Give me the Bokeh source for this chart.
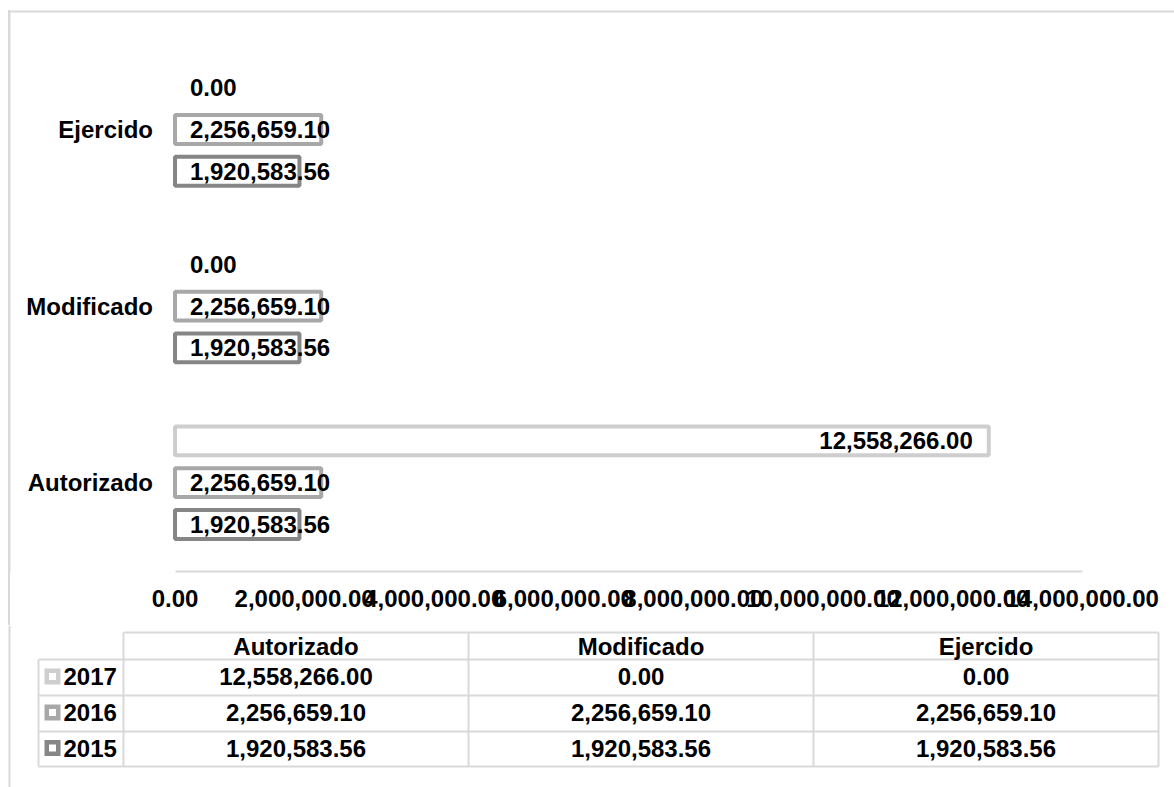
from bokeh.plotting import figure
from bokeh.layouts import column
from bokeh.models import (ColumnDataSource, Range1d, FixedTicker, NumeralTickFormatter,
                          BoxAnnotation, AllLabels)
from bokeh.core.properties import value
from bokeh.embed import file_html
from bokeh.resources import INLINE

# ---------------- data ----------------
categories = ["Autorizado", "Modificado", "Ejercido"]          # bottom -> top
years = ["2015", "2016", "2017"]                                 # bottom -> top within a group
values_2015 = [1920583.56, 1920583.56, 1920583.56]
values_2016 = [2256659.10, 2256659.10, 2256659.10]
values_2017 = [12558266.00, 0.00, 0.00]
year_colors = ["#868686", "#a8a8a8", "#cecece"]
x_ticks = [0, 2000000, 4000000, 6000000, 8000000, 10000000, 12000000, 14000000]

# ---------------- style / layout ----------------
FONT = "Liberation Sans"
FS = "24px"
W = 1174
TOP_H = 625
TABLE_H = 787 - TOP_H
ZERO_PX = 174.5
PX_PER_UNIT = 64.8 / 1e6
SLOT_PX = 41.8
GAP = 1.225
FRAME_H = 571
FIRST_SLOT_PX = 524
GRID_COLOR = "#d9d9d9"

series = {"2015": values_2015, "2016": values_2016, "2017": values_2017}

ys, vals, cols, labels = [], [], [], []
for gi, cat in enumerate(categories):
    for yi, yr in enumerate(years):
        v = series[yr][gi]
        ys.append(gi * (3 + GAP) + yi)
        vals.append(v)
        cols.append(year_colors[yi])
        labels.append(f"{v:,.2f}")

bar_idx = [i for i, v in enumerate(vals) if v > 0]
bar_src = ColumnDataSource(dict(y=[ys[i] for i in bar_idx], value=[vals[i] for i in bar_idx],
                                color=[cols[i] for i in bar_idx]))
fit = [v * PX_PER_UNIT > 200 for v in vals]
in_src = ColumnDataSource(dict(x=[vals[i] for i in range(len(vals)) if fit[i]],
                               y=[ys[i] for i in range(len(vals)) if fit[i]],
                               t=[labels[i] for i in range(len(vals)) if fit[i]]))
out_src = ColumnDataSource(dict(x=[0 for i in range(len(vals)) if not fit[i]],
                                y=[ys[i] for i in range(len(vals)) if not fit[i]],
                                t=[labels[i] for i in range(len(vals)) if not fit[i]]))
cat_src = ColumnDataSource(dict(x=[0] * len(categories),
                                y=[gi * (3 + GAP) + 1 for gi in range(len(categories))],
                                t=categories))

x0 = -ZERO_PX / PX_PER_UNIT
x1 = x0 + W / PX_PER_UNIT
y0 = -(FRAME_H - FIRST_SLOT_PX) / SLOT_PX
y1 = y0 + FRAME_H / SLOT_PX

p = figure(width=W, height=TOP_H, x_range=Range1d(x0, x1), y_range=Range1d(y0, y1),
           output_backend="svg", toolbar_location=None, y_axis_location=None,
           min_border_left=0, min_border_right=0, min_border_top=0,
           min_border_bottom=TOP_H - FRAME_H, outline_line_color=None,
           background_fill_alpha=0, border_fill_alpha=0)
p.grid.visible = False
# left outer border line of the chart area (shows through the transparent canvas)
p.styles = {
    "background-color": "white",
    "background-image": f"linear-gradient({GRID_COLOR}, {GRID_COLOR})",
    "background-size": f"2px {TOP_H - 10}px",
    "background-position": "8px 10px",
    "background-repeat": "no-repeat",
}

p.hbar(y="y", left=0, right="value", height=0.69, fill_color="white",
       line_color="color", line_width=4, source=bar_src)

txt = dict(text="t", text_font=value(FONT), text_font_style="bold", text_font_size=FS,
           text_color="black", text_baseline="middle")
p.text(x="x", y="y", x_offset=-16, text_align="right", source=in_src, **txt)
p.text(x="x", y="y", x_offset=15, text_align="left", source=out_src, **txt)
p.text(x="x", y="y", x_offset=-22, text_align="right", source=cat_src, **txt)

ax = p.xaxis[0]
ax.ticker = FixedTicker(ticks=x_ticks)
ax.formatter = NumeralTickFormatter(format="0,0.00")
ax.bounds = (x_ticks[0], x_ticks[-1])
ax.axis_line_color = GRID_COLOR
ax.axis_line_width = 2
ax.major_tick_line_color = None
ax.minor_tick_line_color = None
ax.major_tick_out = 0
ax.major_label_standoff = 18
ax.major_label_policy = AllLabels()
ax.major_label_text_font = FONT
ax.major_label_text_font_style = "bold"
ax.major_label_text_font_size = FS
ax.major_label_text_color = "black"


def sy(px):
    # screen units of annotations are measured upward from the frame bottom
    return FRAME_H - px


# outer chart border (top + left)
p.add_layout(BoxAnnotation(left=8, right=W, top=sy(10), bottom=sy(12), left_units="screen",
                           right_units="screen", top_units="screen", bottom_units="screen",
                           fill_color=GRID_COLOR, fill_alpha=1, line_color=None))
p.add_layout(BoxAnnotation(left=8, right=10, top=sy(10), bottom=sy(TOP_H), left_units="screen",
                           right_units="screen", top_units="screen", bottom_units="screen",
                           fill_color=GRID_COLOR, fill_alpha=1, line_color=None))

# ---------------- data table (legend) ----------------
t = figure(width=W, height=TABLE_H, x_range=Range1d(0, W), y_range=Range1d(TABLE_H, 0),
           output_backend="svg", toolbar_location=None, x_axis_location=None,
           y_axis_location=None, min_border=0, outline_line_color=None)
t.grid.visible = False

col_x = [123, 468, 813, 1158]
row_y = [7, 34, 70, 106, 141]
left_x = 38

segs_x0, segs_y0, segs_x1, segs_y1 = [], [], [], []
segs_x0.append(col_x[0]); segs_x1.append(col_x[-1]); segs_y0.append(row_y[0]); segs_y1.append(row_y[0])
for ry in row_y[1:]:
    segs_x0.append(left_x); segs_x1.append(col_x[-1]); segs_y0.append(ry); segs_y1.append(ry)
for cx in col_x:
    segs_x0.append(cx); segs_x1.append(cx); segs_y0.append(row_y[0]); segs_y1.append(row_y[-1])
segs_x0.append(left_x); segs_x1.append(left_x); segs_y0.append(row_y[1]); segs_y1.append(row_y[-1])
t.segment(x0=segs_x0, y0=segs_y0, x1=segs_x1, y1=segs_y1, line_color=GRID_COLOR, line_width=2)

# left outer border continues
t.segment(x0=[9], y0=[0], x1=[9], y1=[TABLE_H], line_color=GRID_COLOR, line_width=2)

col_centers = [(col_x[i] + col_x[i + 1]) / 2 for i in range(3)]
row_centers = [(row_y[i] + row_y[i + 1]) / 2 - 1 for i in range(4)]

tt = dict(text_font=value(FONT), text_font_style="bold", text_font_size=FS,
          text_color="black", text_baseline="middle")
t.text(x=col_centers, y=[row_centers[0] + 1] * 3, text=categories, text_align="center", **tt)

legend_years = years[::-1]
legend_colors = year_colors[::-1]
cell_x, cell_y, cell_t = [], [], []
for ri, yr in enumerate(legend_years):
    for ci in range(3):
        cell_x.append(col_centers[ci])
        cell_y.append(row_centers[ri + 1])
        cell_t.append(f"{series[yr][ci]:,.2f}")
t.text(x=cell_x, y=cell_y, text=cell_t, text_align="center", **tt)
t.text(x=[63] * 3, y=row_centers[1:], text=legend_years, text_align="left", **tt)
t.scatter(x=[52] * 3, y=row_centers[1:], marker="square", size=16,
          fill_color=legend_colors, line_color=None)
t.scatter(x=[52] * 3, y=row_centers[1:], marker="square", size=7,
          fill_color="white", line_color=None)

layout = column(p, t, spacing=0)
open("out.html", "w").write(file_html(layout, INLINE))
